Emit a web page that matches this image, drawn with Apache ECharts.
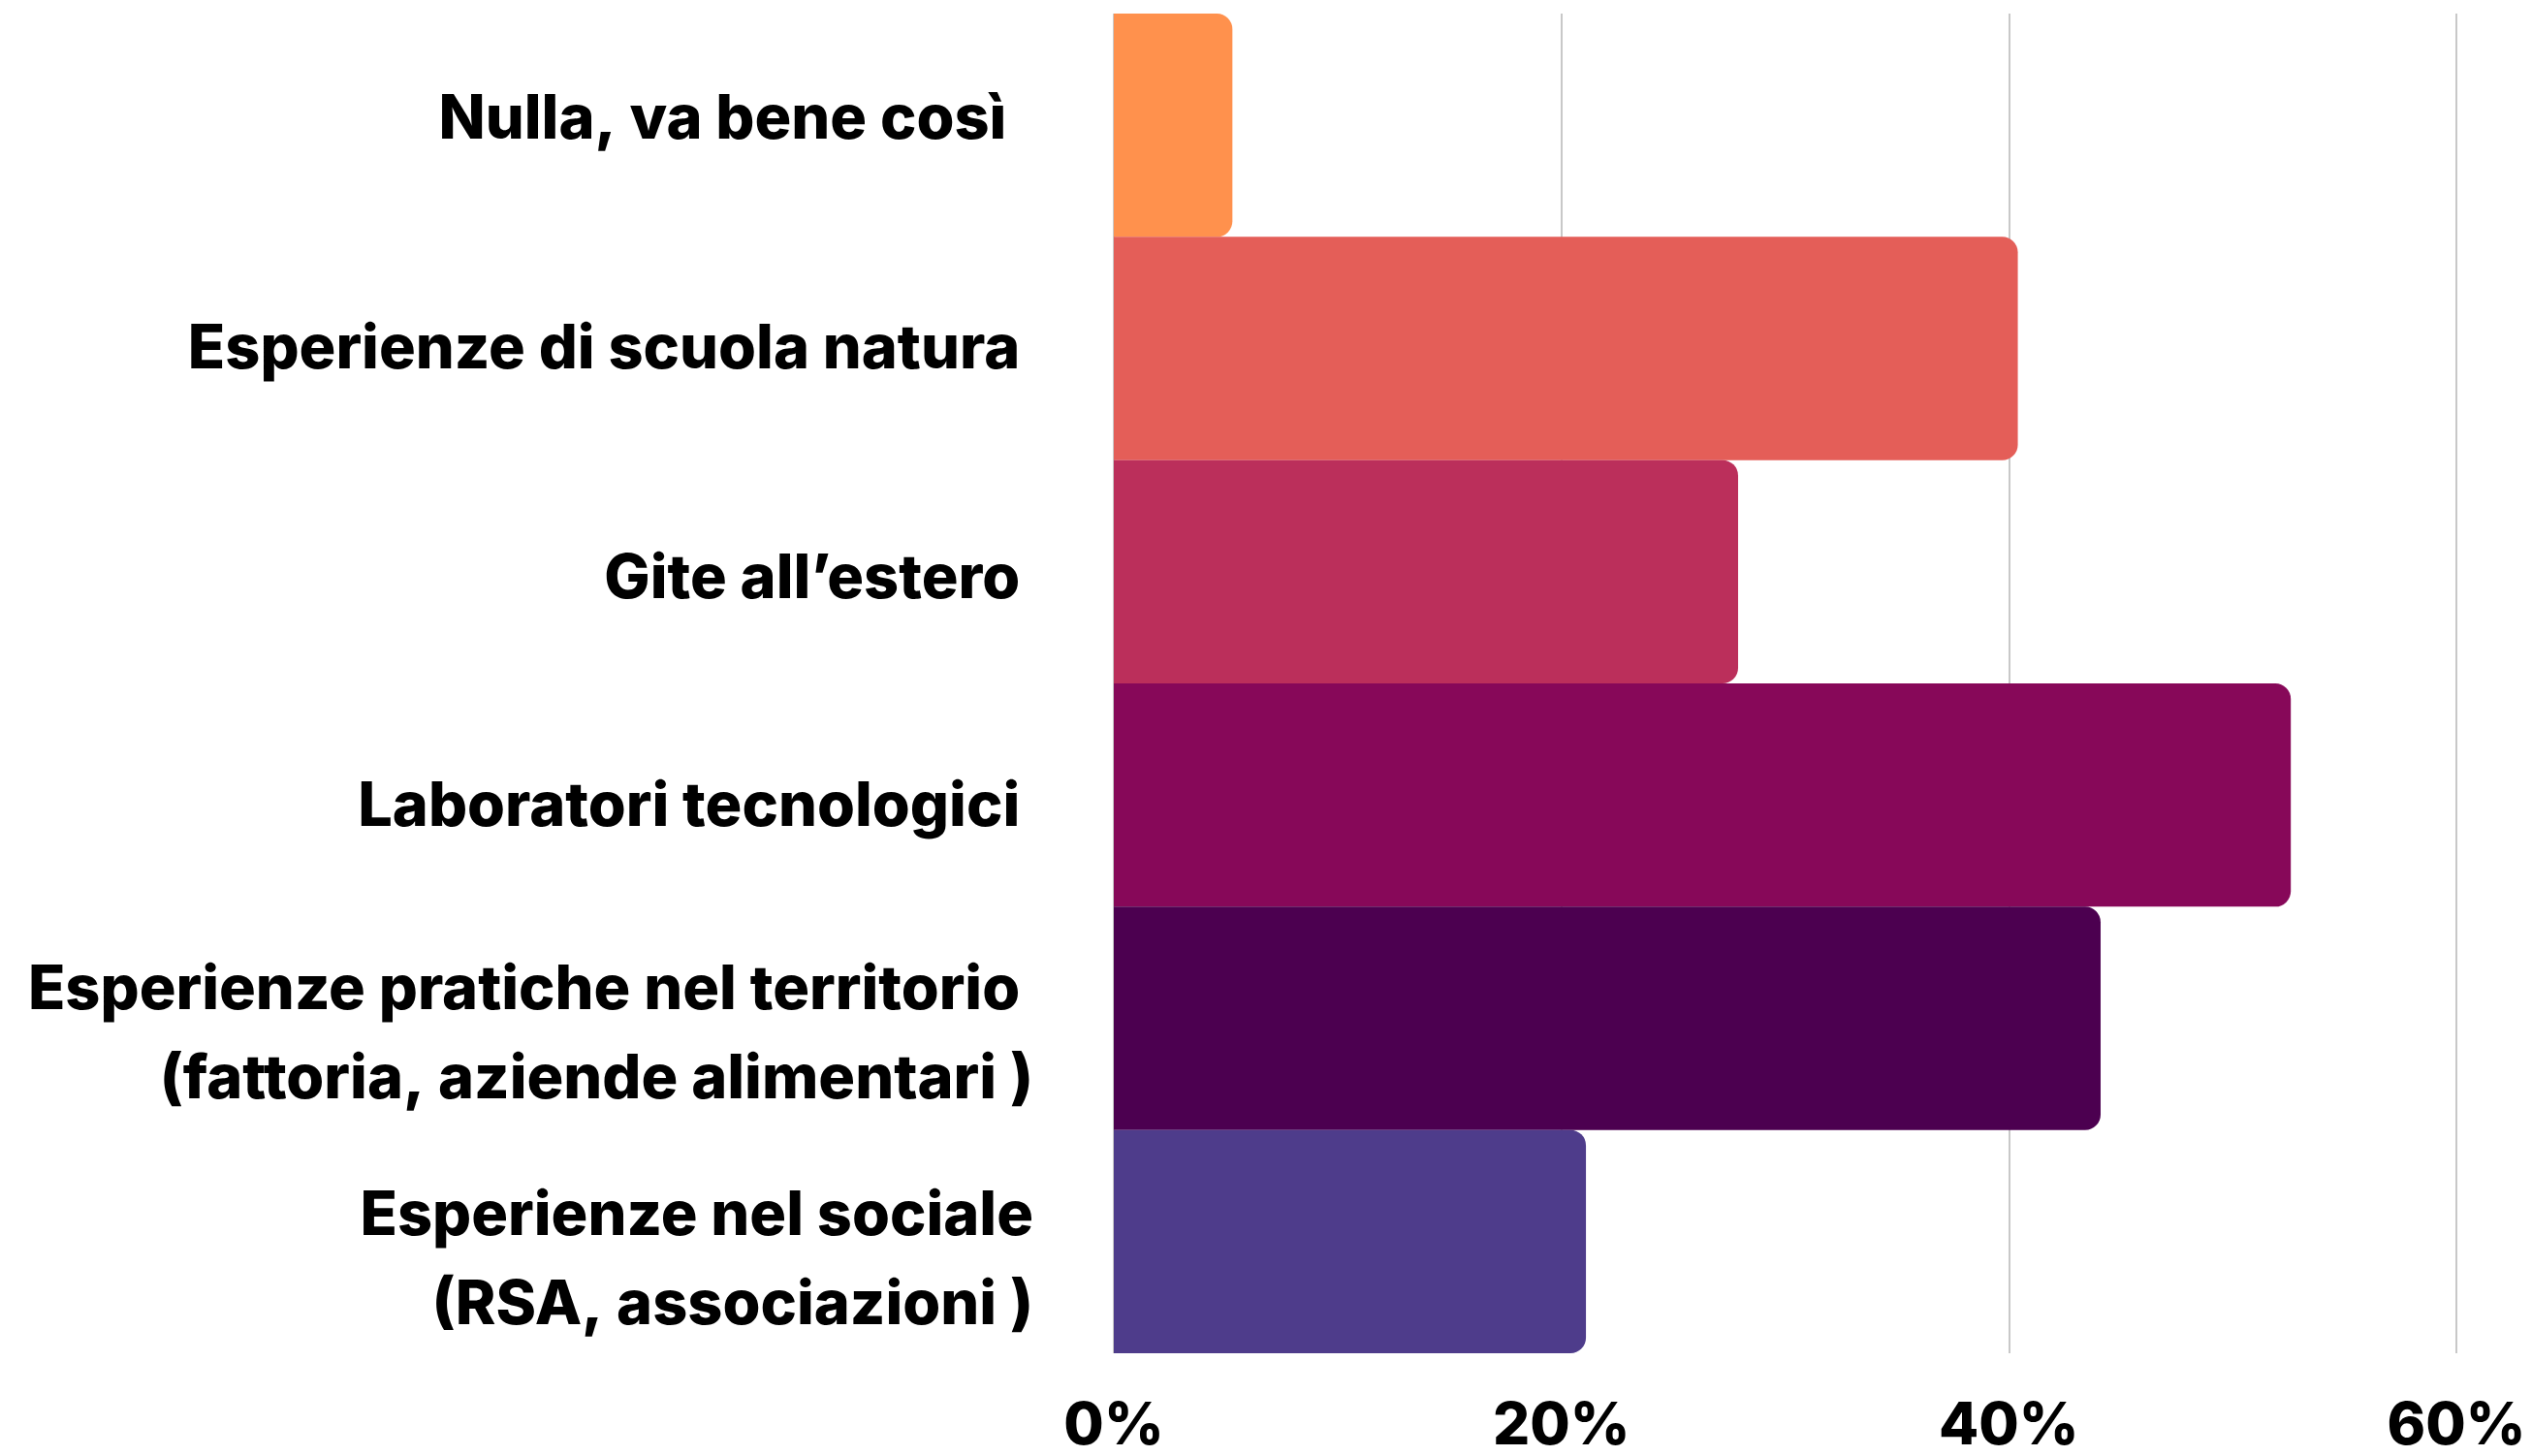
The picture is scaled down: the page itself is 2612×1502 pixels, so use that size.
<!DOCTYPE html>
<html>
<head>
<meta charset="utf-8">
<script src="https://cdn.jsdelivr.net/npm/echarts@6/dist/echarts.min.js"></script>
<style>
html,body{margin:0;padding:0;background:#fff;}
#chart{width:2612px;height:1502px;}
</style>
</head>
<body>
<div id="chart"></div>
<script>
const categories = [
  "Nulla, va bene così  ",
  "Esperienze di scuola natura ",
  "Gite all’estero ",
  "Laboratori tecnologici ",
  "Esperienze pratiche nel territorio \n(fattoria, aziende alimentari )",
  "Esperienze nel sociale\n(RSA, associazioni )"
];
const values = [5.3, 40.4, 27.9, 52.6, 44.1, 21.1];
const colors = ["#FF914D", "#E45E58", "#BB2F5B", "#870859", "#4C0050", "#4E3C8B"];
const xTicks = { min: 0, max: 60, interval: 20 };

// style: vertical nudge (px) of each category label, top to bottom
const labelShift = [-5, 2, 8, 13, 18, 20];
const LH = 92;
const baseFont = { color: '#000', fontFamily: 'Inter', fontWeight: 800, fontSize: 63 };

const rich = {};
labelShift.forEach((s, i) => {
  const p = Math.abs(2 * s);
  rich['t' + i] = Object.assign({}, baseFont, { lineHeight: LH + p, padding: s >= 0 ? [p, 0, 0, 0] : [0, 0, 0, 0] });
  rich['b' + i] = Object.assign({}, baseFont, { lineHeight: LH + p, padding: s < 0 ? [0, 0, p, 0] : [0, 0, 0, 0] });
  rich['m'] = Object.assign({}, baseFont, { lineHeight: LH });
});

const chart = echarts.init(document.getElementById('chart'));
chart.setOption({
  animation: false,
  backgroundColor: '#ffffff',
  grid: { left: 1149, right: 78, top: 14, bottom: 102, containLabel: false },
  xAxis: {
    type: 'value',
    min: xTicks.min, max: xTicks.max, interval: xTicks.interval,
    axisLine: { show: false },
    axisTick: { show: false },
    splitLine: { show: true, lineStyle: { color: '#c8c8c8', width: 2 } },
    axisLabel: {
      formatter: '{value}%',
      color: '#000',
      fontFamily: 'Inter',
      fontWeight: 800,
      fontSize: 60,
      margin: 46
    }
  },
  yAxis: {
    type: 'category',
    data: categories,
    inverse: true,
    axisLine: { show: false },
    axisTick: { show: false },
    splitLine: { show: false },
    axisLabel: Object.assign({}, baseFont, {
      lineHeight: LH,
      margin: 83,
      align: 'right',
      rich: rich,
      formatter: function (value, index) {
        const lines = value.split('\n');
        const s = labelShift[index];
        return lines.map(function (l, j) {
          let tag = 'm';
          if (s >= 0 && j === 0) tag = 't' + index;
          else if (s < 0 && j === lines.length - 1) tag = 'b' + index;
          return '{' + tag + '|' + l + '}';
        }).join('\n');
      }
    })
  },
  series: [{
    type: 'bar',
    data: values.map((v, i) => ({ value: v, itemStyle: { color: colors[i] } })),
    barCategoryGap: '0%',
    itemStyle: { borderRadius: [0, 16, 16, 0] }
  }]
});
</script>
</body>
</html>
